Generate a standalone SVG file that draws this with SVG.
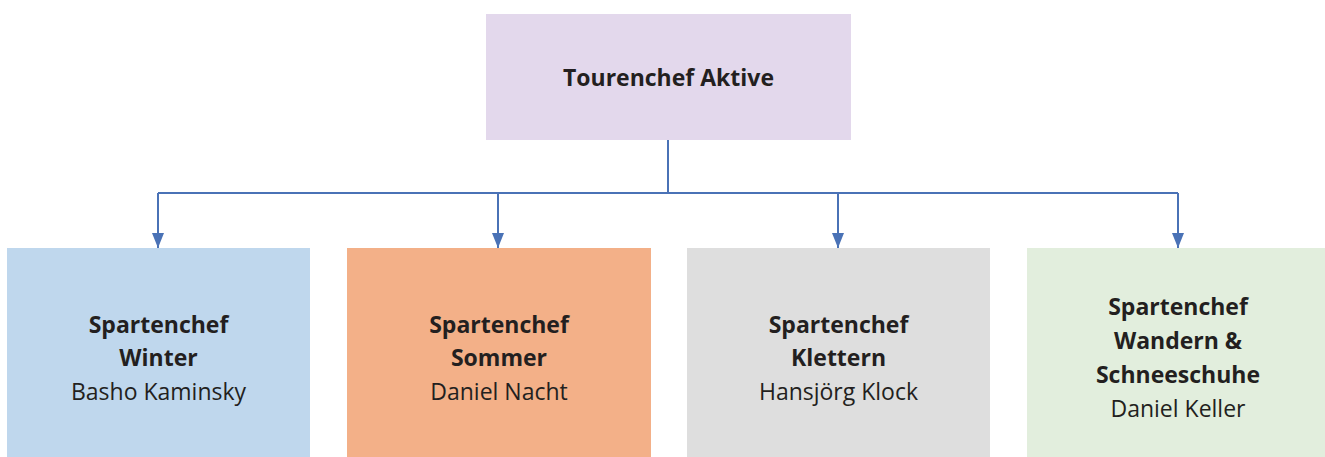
<svg xmlns="http://www.w3.org/2000/svg" width="1325" height="457" viewBox="0 0 1325 457">
<style>
text{font-family:"Open Sans","Noto Sans",sans-serif;font-size:23px;fill:#231f20;text-anchor:middle}
.b{font-weight:bold}
.c{stroke:#4a72b6;stroke-width:2;fill:none}
.a{marker-end:url(#ah)}
</style>
<defs>
<marker id="ah" markerWidth="15" markerHeight="12" refX="15" refY="6" orient="auto" markerUnits="userSpaceOnUse" viewBox="0 0 15 12">
<path d="M0,0 L15,6 L0,12 z" fill="#4a72b6"/>
</marker>
</defs>
<rect width="1325" height="457" fill="#fff"/>
<g id="connectors">
<path class="c" d="M668,140 V193"/>
<path class="c" d="M158,193 H1178"/>
<path class="c a" d="M158,193 V248"/>
<path class="c a" d="M498,193 V248"/>
<path class="c a" d="M838,193 V248"/>
<path class="c a" d="M1178,193 V248"/>
</g>
<g id="top">
<rect x="486" y="14" width="365" height="126" fill="#e3d8ec"/>
<text class="b" x="668.5" y="86">Tourenchef Aktive</text>
</g>
<g id="winter">
<rect x="7" y="248" width="303" height="209" fill="#bfd7ed"/>
<text class="b" x="158.5" y="333">Spartenchef</text>
<text class="b" x="158.5" y="366">Winter</text>
<text x="158.5" y="400">Basho Kaminsky</text>
</g>
<g id="sommer">
<rect x="347" y="248" width="304" height="209" fill="#f3b088"/>
<text class="b" x="499" y="333">Spartenchef</text>
<text class="b" x="499" y="366">Sommer</text>
<text x="499" y="400">Daniel Nacht</text>
</g>
<g id="klettern">
<rect x="687" y="248" width="303" height="209" fill="#dedede"/>
<text class="b" x="838.5" y="333">Spartenchef</text>
<text class="b" x="838.5" y="366">Klettern</text>
<text x="838.5" y="400">Hansjörg Klock</text>
</g>
<g id="wandern">
<rect x="1027" y="248" width="298" height="209" fill="#e2eedd"/>
<text class="b" x="1178" y="315">Spartenchef</text>
<text class="b" x="1178" y="349">Wandern &amp;</text>
<text class="b" x="1178" y="383">Schneeschuhe</text>
<text x="1178" y="417">Daniel Keller</text>
</g>
</svg>
